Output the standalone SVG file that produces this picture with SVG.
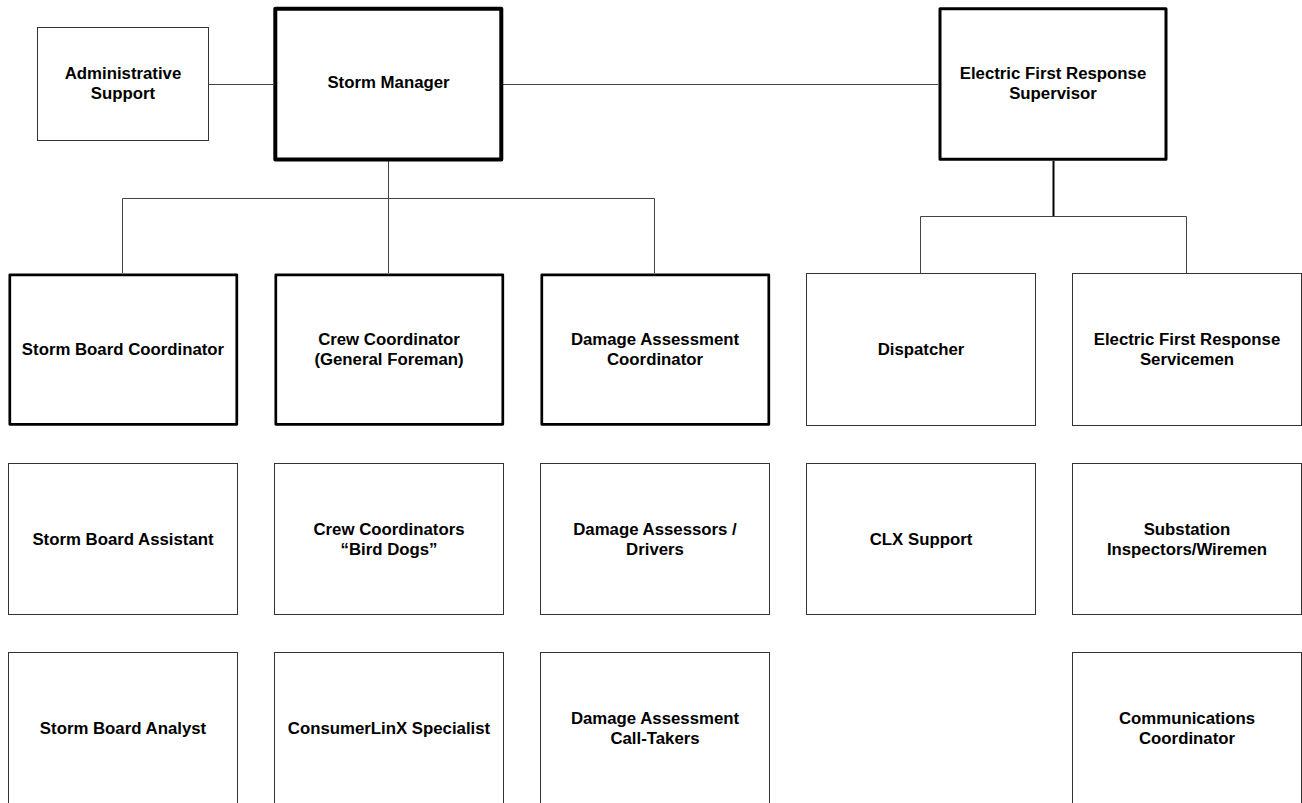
<svg xmlns="http://www.w3.org/2000/svg" width="1302" height="803" viewBox="0 0 1302 803">
  <style>
    .box { fill: #ffffff; stroke: #333333; stroke-width: 1; }
    .lead { fill: #ffffff; stroke: #000000; stroke-width: 2.7; stroke-linejoin: round; }
    .head { fill: #ffffff; stroke: #000000; stroke-width: 4; stroke-linejoin: round; }
    .sup { fill: #ffffff; stroke: #000000; stroke-width: 3; stroke-linejoin: round; }
    .wire { fill: none; stroke: #444444; stroke-width: 1; }
    .wire-bold { fill: none; stroke: #000000; stroke-width: 2; }
    text { font-family: "Liberation Sans", Arial, sans-serif; font-weight: bold; font-size: 16.8px; fill: #000000; text-anchor: middle; }
  </style>
  <rect width="1302" height="803" fill="#ffffff"/>

  <g id="connectors">
    <line class="wire" x1="208.5" y1="84.5" x2="273" y2="84.5"/>
    <line class="wire" x1="503" y1="84.5" x2="938" y2="84.5"/>
    <line class="wire" x1="388.5" y1="161" x2="388.5" y2="273"/>
    <line class="wire" x1="122.5" y1="198.5" x2="654.5" y2="198.5"/>
    <line class="wire" x1="122.5" y1="198.5" x2="122.5" y2="273"/>
    <line class="wire" x1="654.5" y1="198.5" x2="654.5" y2="273"/>
    <line class="wire-bold" x1="1053.5" y1="161" x2="1053.5" y2="216.5"/>
    <line class="wire" x1="920.5" y1="216.5" x2="1186.5" y2="216.5"/>
    <line class="wire" x1="920.5" y1="216.5" x2="920.5" y2="273"/>
    <line class="wire" x1="1186.5" y1="216.5" x2="1186.5" y2="273"/>
  </g>

  <g id="administrative-support">
    <rect class="box" x="37.5" y="27.5" width="171" height="113"/>
    <text x="123" y="79">Administrative</text>
    <text x="123" y="99">Support</text>
  </g>

  <g id="storm-manager">
    <rect class="head" x="275.3" y="8.7" width="226" height="150.8"/>
    <text x="388.5" y="88">Storm Manager</text>
  </g>

  <g id="efr-supervisor">
    <rect class="sup" x="940" y="8.7" width="226" height="150.5"/>
    <text x="1053" y="79">Electric First Response</text>
    <text x="1053" y="99">Supervisor</text>
  </g>

  <!-- second row: coordinators -->
  <g id="storm-board-coordinator">
    <rect class="lead" x="9.8" y="274.8" width="227" height="149.5"/>
    <text x="123" y="355">Storm Board Coordinator</text>
  </g>
  <g id="crew-coordinator">
    <rect class="lead" x="275.8" y="274.8" width="227" height="149.5"/>
    <text x="389" y="345">Crew Coordinator</text>
    <text x="389" y="365">(General Foreman)</text>
  </g>
  <g id="damage-assessment-coordinator">
    <rect class="lead" x="541.8" y="274.8" width="227" height="149.5"/>
    <text x="655" y="345">Damage Assessment</text>
    <text x="655" y="365">Coordinator</text>
  </g>
  <g id="dispatcher">
    <rect class="box" x="806.5" y="273.5" width="229" height="152"/>
    <text x="921" y="355">Dispatcher</text>
  </g>
  <g id="efr-servicemen">
    <rect class="box" x="1072.5" y="273.5" width="229" height="152"/>
    <text x="1187" y="345">Electric First Response</text>
    <text x="1187" y="365">Servicemen</text>
  </g>

  <!-- third row -->
  <g id="storm-board-assistant">
    <rect class="box" x="8.5" y="463.5" width="229" height="151"/>
    <text x="123" y="545">Storm Board Assistant</text>
  </g>
  <g id="crew-coordinators-bird-dogs">
    <rect class="box" x="274.5" y="463.5" width="229" height="151"/>
    <text x="389" y="535">Crew Coordinators</text>
    <text x="389" y="555">“Bird Dogs”</text>
  </g>
  <g id="damage-assessors">
    <rect class="box" x="540.5" y="463.5" width="229" height="151"/>
    <text x="655" y="535">Damage Assessors /</text>
    <text x="655" y="555">Drivers</text>
  </g>
  <g id="clx-support">
    <rect class="box" x="806.5" y="463.5" width="229" height="151"/>
    <text x="921" y="545">CLX Support</text>
  </g>
  <g id="substation-inspectors">
    <rect class="box" x="1072.5" y="463.5" width="229" height="151"/>
    <text x="1187" y="535">Substation</text>
    <text x="1187" y="555">Inspectors/Wiremen</text>
  </g>

  <!-- fourth row -->
  <g id="storm-board-analyst">
    <rect class="box" x="8.5" y="652.5" width="229" height="152"/>
    <text x="123" y="734">Storm Board Analyst</text>
  </g>
  <g id="consumerlinx-specialist">
    <rect class="box" x="274.5" y="652.5" width="229" height="152"/>
    <text x="389" y="734">ConsumerLinX Specialist</text>
  </g>
  <g id="damage-assessment-call-takers">
    <rect class="box" x="540.5" y="652.5" width="229" height="152"/>
    <text x="655" y="724">Damage Assessment</text>
    <text x="655" y="744">Call-Takers</text>
  </g>
  <g id="communications-coordinator">
    <rect class="box" x="1072.5" y="652.5" width="229" height="152"/>
    <text x="1187" y="724">Communications</text>
    <text x="1187" y="744">Coordinator</text>
  </g>
</svg>
